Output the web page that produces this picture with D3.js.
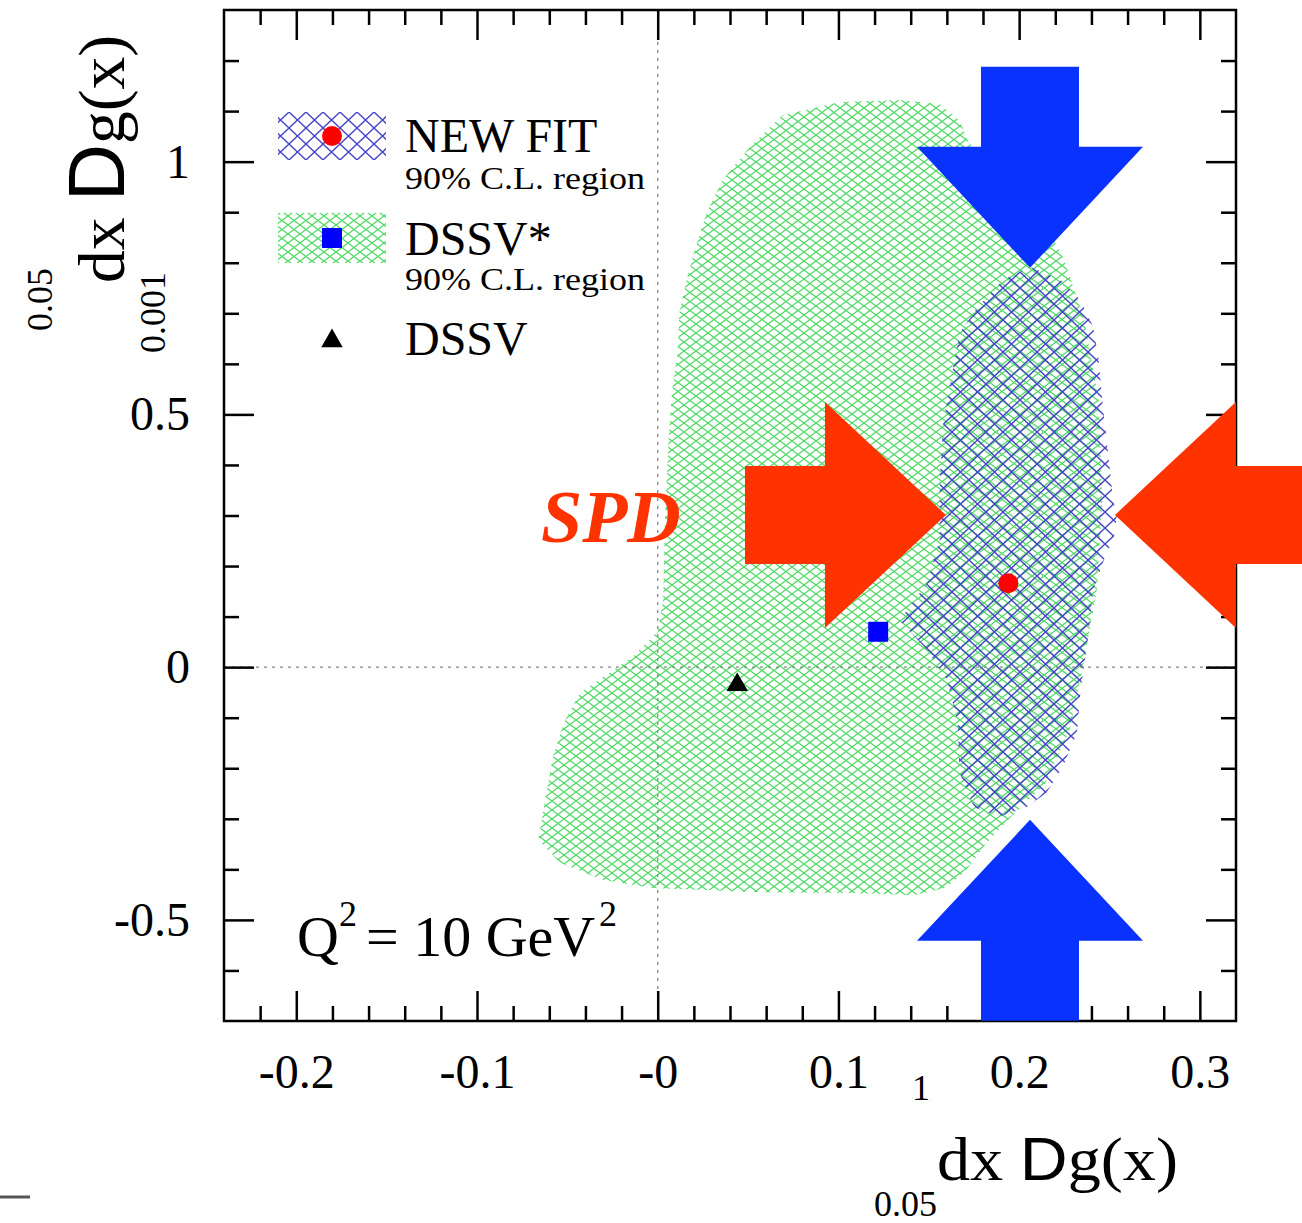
<!DOCTYPE html>
<html><head><meta charset="utf-8">
<script src="https://cdn.jsdelivr.net/npm/d3@7"></script>
<style>body{margin:0;background:#fff} svg{display:block}</style>
</head><body>
<script>
// ---------- data ----------
const xTickValues = [-0.2, -0.1, 0, 0.1, 0.2, 0.3];
const xTickLabels = ["-0.2", "-0.1", "-0", "0.1", "0.2", "0.3"];
const yTickValues = [-0.5, 0, 0.5, 1];
const yTickLabels = ["-0.5", "0", "0.5", "1"];

// DSSV* 90% C.L. region (x, y)
const dssvStarRegion = [
  [-0.066,-0.342],[-0.062,-0.257],[-0.058,-0.178],[-0.052,-0.110],[-0.043,-0.051],[-0.030,-0.019],
  [-0.014,0.020],[0.000,0.070],[0.003,0.133],[0.004,0.291],[0.006,0.449],[0.008,0.548],[0.011,0.621],
  [0.012,0.701],[0.016,0.766],[0.021,0.831],[0.027,0.898],[0.036,0.964],[0.051,1.029],[0.069,1.092],
  [0.101,1.118],[0.134,1.122],[0.156,1.114],[0.167,1.082],[0.172,1.039],[0.189,0.974],[0.212,0.894],
  [0.225,0.805],[0.236,0.687],[0.244,0.528],[0.246,0.331],[0.243,0.153],[0.236,0.014],[0.228,-0.124],
  [0.214,-0.233],[0.195,-0.298],[0.181,-0.352],[0.170,-0.405],[0.159,-0.437],[0.142,-0.451],
  [0.108,-0.447],[0.053,-0.445],[-0.003,-0.437],[-0.030,-0.421],[-0.054,-0.387]
];
// NEW FIT 90% C.L. region (x, y)
const newFitRegion = [
  [0.206,0.792],[0.223,0.766],[0.234,0.726],[0.241,0.673],[0.244,0.608],[0.246,0.528],[0.249,0.430],
  [0.252,0.331],[0.254,0.297],[0.252,0.246],[0.249,0.232],[0.241,0.153],[0.238,0.054],[0.234,-0.045],
  [0.232,-0.130],[0.224,-0.198],[0.215,-0.249],[0.204,-0.277],[0.189,-0.296],[0.175,-0.277],
  [0.167,-0.209],[0.166,-0.110],[0.160,-0.025],[0.149,0.034],[0.134,0.093],[0.149,0.166],[0.156,0.252],
  [0.156,0.364],[0.158,0.483],[0.162,0.562],[0.167,0.661],[0.177,0.712],[0.191,0.766]
];
const newFitPoint = [0.194, 0.166];
const dssvStarPoint = [0.122, 0.070];
const dssvPoint = [0.044, -0.031];

// SPD arrows: tip position (x, y) and pointing direction
const arrowTipX = [0.206, 0.206, 0.1595, 0.253];
const arrowTipY = [0.790, -0.302, 0.301, 0.301];
const arrowDirs = ["down", "up", "right", "left"];
const arrowColors = ["#0a32ff", "#0a32ff", "#ff3300", "#ff3300"];

// ---------- chart ----------
const W = 1302, H = 1223;
const svg = d3.select("body").append("svg").attr("width", W).attr("height", H);
const x = d3.scaleLinear().domain([-0.24, 0.32]).range([224, 1236]);
const y = d3.scaleLinear().domain([-0.7, 1.3]).range([1021, 10]);
const serif = "'Liberation Serif','Times New Roman',serif";
const sans = "'Liberation Sans',Arial,sans-serif";

const defs = svg.append("defs");
function hatch(id, w, h, color, sw) {
  const p = defs.append("pattern").attr("id", id).attr("patternUnits", "userSpaceOnUse")
    .attr("width", w).attr("height", h);
  p.append("path")
    .attr("d", `M${-w},${-h}L${2*w},${2*h}M${2*w},${-h}L${-w},${2*h}`)
    .attr("stroke", color).attr("stroke-width", sw).attr("fill", "none");
}
hatch("hGreen", 12, 9, "#4cd862", 1.25);
hatch("hBlue", 17, 16, "#4646c8", 1.4);

const line = d3.line().x(d => x(d[0])).y(d => y(d[1])).curve(d3.curveLinearClosed);

// regions
svg.append("path").attr("d", line(dssvStarRegion)).attr("fill", "url(#hGreen)");
svg.append("path").attr("d", line(newFitRegion)).attr("fill", "url(#hBlue)");

// zero lines
const [x0, x1] = x.domain(), [y0, y1] = y.domain();
svg.append("line").attr("x1", x(0)).attr("x2", x(0)).attr("y1", y(y0)).attr("y2", y(y1))
  .attr("stroke", "#888").attr("stroke-width", 1.3).attr("stroke-dasharray", "3,5");
svg.append("line").attr("x1", x(x0)).attr("x2", x(x1)).attr("y1", y(0)).attr("y2", y(0))
  .attr("stroke", "#888").attr("stroke-width", 1.3).attr("stroke-dasharray", "3,5");

// axes
const xMinor = d3.range(-11, 16).filter(i => i % 5 !== 0).map(i => i * 0.02);
const yMinor = d3.range(-6, 13).filter(i => i % 5 !== 0).map(i => i * 0.1);
const MAJ = 30, MIN = 15;
function styleAxis(g) {
  g.select(".domain").remove();
  g.selectAll(".tick line").attr("stroke", "#000").attr("stroke-width", 2.5);
}
const gx = svg.append("g").attr("transform", `translate(0,${y(y0)})`)
  .call(d3.axisBottom(x).tickValues(xTickValues).tickFormat((d, i) => xTickLabels[i]).tickSize(-MAJ).tickPadding(33));
gx.call(styleAxis);
gx.selectAll("text").attr("font-family", serif).attr("font-size", 48).attr("fill", "#000");
svg.append("g").attr("transform", `translate(0,${y(y0)})`)
  .call(d3.axisBottom(x).tickValues(xMinor).tickFormat("").tickSize(-MIN)).call(styleAxis);
svg.append("g").attr("transform", `translate(0,${y(y1)})`)
  .call(d3.axisTop(x).tickValues(xTickValues).tickFormat("").tickSize(-MAJ)).call(styleAxis);
svg.append("g").attr("transform", `translate(0,${y(y1)})`)
  .call(d3.axisTop(x).tickValues(xMinor).tickFormat("").tickSize(-MIN)).call(styleAxis);

const gy = svg.append("g").attr("transform", `translate(${x(x0)},0)`)
  .call(d3.axisLeft(y).tickValues(yTickValues).tickFormat((d, i) => yTickLabels[i]).tickSize(-MAJ).tickPadding(34));
gy.call(styleAxis);
gy.selectAll("text").attr("font-family", serif).attr("font-size", 48).attr("fill", "#000");
svg.append("g").attr("transform", `translate(${x(x0)},0)`)
  .call(d3.axisLeft(y).tickValues(yMinor).tickFormat("").tickSize(-MIN)).call(styleAxis);
svg.append("g").attr("transform", `translate(${x(x1)},0)`)
  .call(d3.axisRight(y).tickValues(yTickValues).tickFormat("").tickSize(-MAJ)).call(styleAxis);
svg.append("g").attr("transform", `translate(${x(x1)},0)`)
  .call(d3.axisRight(y).tickValues(yMinor).tickFormat("").tickSize(-MIN)).call(styleAxis);

// frame
svg.append("rect").attr("x", x(x0)).attr("y", y(y1)).attr("width", x(x1) - x(x0)).attr("height", y(y0) - y(y1))
  .attr("fill", "none").attr("stroke", "#000").attr("stroke-width", 2.5);

// arrows (fixed shape in pixels, positioned by data tips)
const HEAD_L = 121, HEAD_W = 113, SHAFT_W = 49, SHAFT_L = 80;
const shape = [[0,0],[-HEAD_L,-HEAD_W],[-HEAD_L,-SHAFT_W],[-HEAD_L-SHAFT_L,-SHAFT_W],
               [-HEAD_L-SHAFT_L,SHAFT_W],[-HEAD_L,SHAFT_W],[-HEAD_L,HEAD_W]];
const rot = {right: 0, down: 90, left: 180, up: -90};
arrowDirs.forEach((dir, i) => {
  svg.append("polygon")
    .attr("points", shape.map(p => p.join(",")).join(" "))
    .attr("transform", `translate(${x(arrowTipX[i])},${y(arrowTipY[i])}) rotate(${rot[dir]})`)
    .attr("fill", arrowColors[i]);
});

// markers
svg.append("circle").attr("cx", x(newFitPoint[0])).attr("cy", y(newFitPoint[1])).attr("r", 10).attr("fill", "#ff0000");
svg.append("rect").attr("x", x(dssvStarPoint[0]) - 10).attr("y", y(dssvStarPoint[1]) - 10)
  .attr("width", 20).attr("height", 20).attr("fill", "#0000ff");
svg.append("path").attr("d", d3.symbol(d3.symbolTriangle, 200)())
  .attr("transform", `translate(${x(dssvPoint[0])},${y(dssvPoint[1]) + 2})`).attr("fill", "#000");

// legend
const lg = svg.append("g");
lg.append("rect").attr("x", 278).attr("y", 112).attr("width", 108).attr("height", 48).attr("fill", "url(#hBlue)");
lg.append("circle").attr("cx", 332).attr("cy", 136).attr("r", 10).attr("fill", "#ff0000");
lg.append("rect").attr("x", 278).attr("y", 213).attr("width", 108).attr("height", 50).attr("fill", "url(#hGreen)");
lg.append("rect").attr("x", 322).attr("y", 228).attr("width", 20).attr("height", 20).attr("fill", "#0000ff");
lg.append("path").attr("d", d3.symbol(d3.symbolTriangle, 200)()).attr("transform", "translate(332,341)").attr("fill", "#000");
function txt(t, tx, ty, size, extra) {
  const e = svg.append("text").attr("x", tx).attr("y", ty).attr("font-family", serif)
    .attr("font-size", size).attr("fill", "#000").text(t);
  if (extra) extra(e);
  return e;
}
txt("NEW FIT", 405, 152, 48);
txt("90% C.L. region", 405, 189, 31, e => e.attr("textLength", 240).attr("lengthAdjust", "spacingAndGlyphs"));
txt("DSSV*", 405, 255, 48);
txt("90% C.L. region", 405, 290, 31, e => e.attr("textLength", 240).attr("lengthAdjust", "spacingAndGlyphs"));
txt("DSSV", 405, 355, 48);

// SPD label
svg.append("text").attr("x", 541).attr("y", 542).attr("font-family", serif).attr("font-size", 74)
  .attr("font-style", "italic").attr("font-weight", "bold").attr("fill", "#ff3300").text("SPD");

// Q^2 label
txt("Q", 297, 956, 58);
txt("2", 339, 926, 36);
txt("= 10 GeV", 366, 956, 58);
txt("2", 599, 926, 36);

// axis titles
const xt = svg.append("text").attr("x", 937).attr("y", 1180).attr("font-family", serif).attr("font-size", 62)
  .attr("fill", "#000").attr("textLength", 241).attr("lengthAdjust", "spacingAndGlyphs");
xt.append("tspan").text("dx ");
xt.append("tspan").attr("font-family", sans).text("D");
xt.append("tspan").text("g(x)");
txt("1", 912, 1100, 36);
txt("0.05", 874, 1216, 36);

const yt = svg.append("text").attr("transform", "translate(124,283) rotate(-90)").attr("font-family", serif)
  .attr("font-size", 66).attr("fill", "#000").attr("textLength", 248).attr("lengthAdjust", "spacingAndGlyphs");
yt.append("tspan").text("dx ");
yt.append("tspan").attr("font-family", sans).attr("font-size", 80).text("D");
yt.append("tspan").text("g(x)");
svg.append("text").attr("transform", "translate(52,331) rotate(-90)").attr("font-family", serif)
  .attr("font-size", 36).attr("fill", "#000").text("0.05");
svg.append("text").attr("transform", "translate(165,353) rotate(-90)").attr("font-family", serif)
  .attr("font-size", 36).attr("fill", "#000").text("0.001");

// stray mark bottom-left
svg.append("line").attr("x1", 0).attr("x2", 30).attr("y1", 1197).attr("y2", 1197).attr("stroke", "#555").attr("stroke-width", 3);
</script>
</body></html>
